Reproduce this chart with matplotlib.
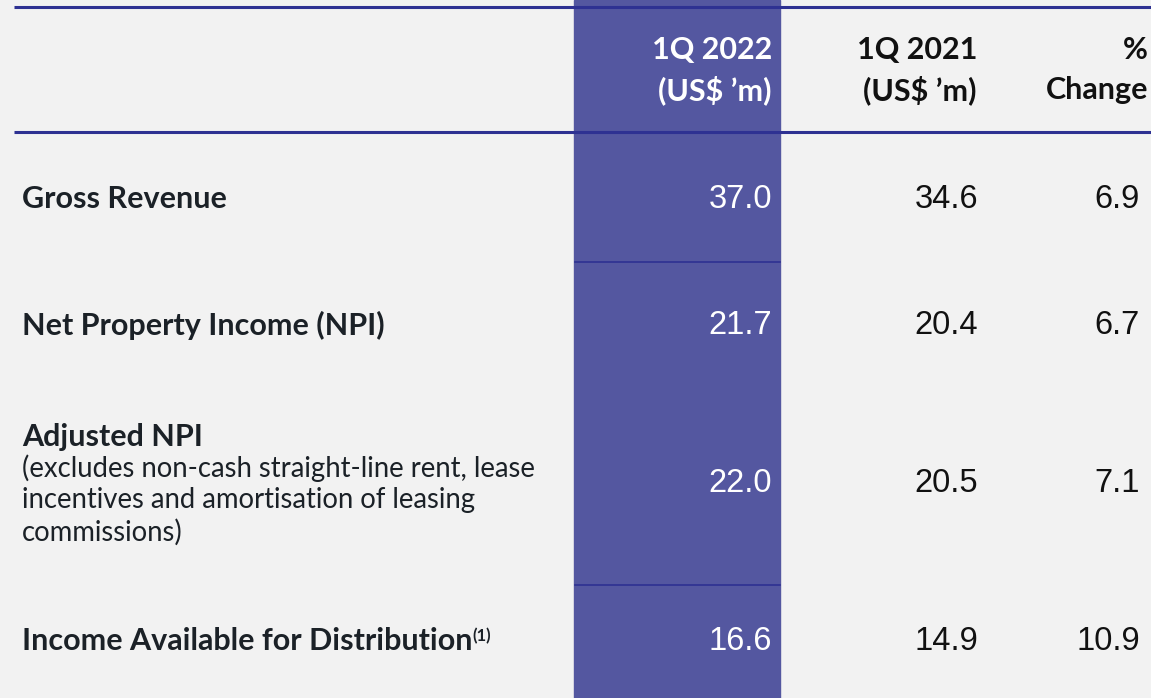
import matplotlib.pyplot as plt

# table content
row_labels = ["Gross Revenue", "Net Property Income (NPI)", "Adjusted NPI",
              "Income Available for Distribution"]
row_notes = [[], [], ["(excludes non-cash straight-line rent, lease",
                      "incentives and amortisation of leasing",
                      "commissions)"], []]
row_sup = ["", "", "", "(1)"]
col_headers = [["1Q 2022", "(US$ \u2019m)"], ["1Q 2021", "(US$ \u2019m)"],
               ["%", "Change"]]
q1_2022 = [37.0, 21.7, 22.0, 16.6]
q1_2021 = [34.6, 20.4, 20.5, 14.9]
pct_change = [6.9, 6.7, 7.1, 10.9]

BG = "#f2f2f2"
PURPLE = "#5457a0"
LINE = "#2e3192"
DARK = "#1b2127"

fig = plt.figure(figsize=(11.51, 6.98), dpi=100, facecolor=BG)
ax = fig.add_axes([0, 0, 1, 1])
ax.set_xlim(0, 1151)
ax.set_ylim(698, 0)
ax.axis("off")

# highlighted column
ax.axvspan(574, 780, color=PURPLE, zorder=0)

# rules
ax.plot([14, 1151], [7, 7], color=LINE, lw=2.2, solid_capstyle="butt")
ax.plot([14, 1151], [132, 132], color=LINE, lw=2.2, solid_capstyle="butt")
for yy in [262, 585]:
    ax.plot([575, 780], [yy, yy], color=LINE, lw=1.2)

label_font = "Lato"
num_font = "Liberation Sans"

col_right = [772, 977, 1148]
head_y = [50, 90]
for i, h in enumerate(col_headers):
    for k, line in enumerate(h):
        ax.text(col_right[i], head_y[k], line, ha="right", va="center",
                family=label_font, fontweight="bold", fontsize=22,
                color="white" if i == 0 else "#111111")

row_y = [199, 325, 437, 641]
val_y = [199, 325, 483, 641]
val_right = [772, 978, 1140]
for i, lab in enumerate(row_labels):
    t = ax.text(22, row_y[i], lab, ha="left", va="center", family=label_font,
                fontweight="bold", fontsize=22, color=DARK)
    if row_sup[i]:
        ax.annotate(row_sup[i], xy=(1, 0.98), xycoords=t, ha="left", va="top",
                    family=label_font, fontweight="bold", fontsize=12, color=DARK)
    for k, note in enumerate(row_notes[i]):
        ax.text(22, row_y[i] + 31 + 32 * k, note, ha="left", va="center",
                family=label_font, fontsize=19.8, color=DARK)
    vals = [q1_2022[i], q1_2021[i], pct_change[i]]
    for j, v in enumerate(vals):
        ax.text(val_right[j], val_y[i], f"{v:.1f}", ha="right", va="center",
                family=num_font, fontsize=23.5,
                color="white" if j == 0 else "#111111")

fig.savefig("out.png", dpi=100, facecolor=BG)
